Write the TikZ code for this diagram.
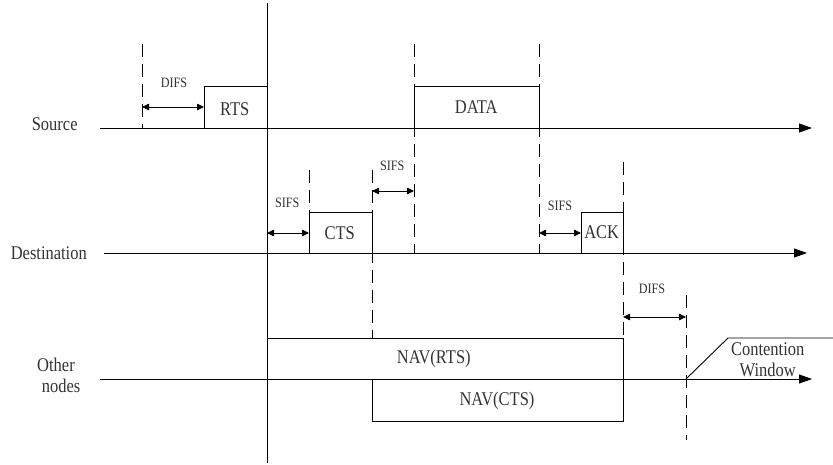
\documentclass[tikz,border=0pt]{standalone}
\usepackage{fontspec}
\setmainfont{Liberation Serif}
\newfontfamily\narrowserif[FakeStretch=0.85]{Liberation Serif}
\usetikzlibrary{arrows.meta}
\begin{document}
\begin{tikzpicture}[x=1pt,y=-1pt,line width=0.9pt,
  axis/.style={-{Triangle[length=13pt,width=9pt]}},
  dimarrow/.style={{Triangle[length=7pt,width=6.5pt]}-{Triangle[length=7pt,width=6.5pt]},line width=0.8pt},
  tickline/.style={dash pattern=on 13pt off 7pt},
  big/.style={font=\narrowserif\fontsize{19.4}{21.5}\selectfont,inner sep=0pt,anchor=base,text=black!80},
  small/.style={font=\narrowserif\fontsize{14.3}{16}\selectfont,inner sep=0pt,anchor=base,text=black!80},
  frame/.style={draw}]
\useasboundingbox (0,0) rectangle (833,465);

% time points
\coordinate (tS)   at (142,128);
\coordinate (tR)   at (204,128);
\coordinate (tE)   at (267,128);
\coordinate (tC)   at (309,253);
\coordinate (tCe)  at (372,253);
\coordinate (tD)   at (414,128);
\coordinate (tDe)  at (539,128);
\coordinate (tA)   at (581,253);
\coordinate (tAe)  at (623,253);
\coordinate (tW)   at (686,379);

% axes
\coordinate (srcA) at (100,128); \coordinate (srcB) at (812,128);
\coordinate (dstA) at (104,253); \coordinate (dstB) at (807,253);
\coordinate (othA) at (100,379); \coordinate (othB) at (812,379);
\draw[axis] (srcA) -- (srcB);
\draw[axis] (dstA) -- (dstB);
\draw[axis] (othA) -- (othB);

% row labels
\node[big] (lsrc) at (54.7,131) {Source};
\node[big] (ldst) at (48.8,260) {Destination};
\node[big] (loth1) at (56,371.7) {Other};
\node[big] (loth2) at (61,392.7) {nodes};

% solid time line
\coordinate (vtop) at (267,3); \coordinate (vbot) at (267,463);
\draw (vtop) -- (vbot);

% dashed ticks
\coordinate (d1a) at (142,44);  \draw[tickline] (d1a) -- (tS);
\coordinate (d2a) at (414,44);  \coordinate (d2b) at (414,253); \draw[tickline] (d2a) -- (d2b);
\coordinate (d3a) at (539,44);  \coordinate (d3b) at (539,253); \draw[tickline] (d3a) -- (d3b);
\coordinate (d4a) at (309,170); \coordinate (d4b) at (309,212); \draw[tickline] (d4a) -- (d4b);
\coordinate (d5a) at (372,170); \coordinate (d5b) at (372,338); \draw[tickline] (d5a) -- (d5b);
\coordinate (d6a) at (623,162); \coordinate (d6b) at (623,338); \draw[tickline] (d6a) -- (d6b);
\coordinate (d7a) at (686,295); \coordinate (d7b) at (686,440); \draw[tickline] (d7a) -- (d7b);

% frames
\draw[frame] (204,86) rectangle (267,128);
\draw[frame] (414,86) rectangle (539,128);
\draw[frame] (309,212) rectangle (372,253);
\draw[frame] (581,212) rectangle (623,253);
\draw[frame] (267,338) rectangle (623,379);
\draw[frame] (372,379) rectangle (623,421);

% frame labels
\node[big] (rts)  at (234.7,115.7) {RTS};
\node[big] (data) at (476.2,113.3) {DATA};
\node[big] (cts)  at (339.7,239.3) {CTS};
\node[big] (ack)  at (601.7,238.3) {ACK};
\node[big] (navr) at (433.8,363.3) {NAV(RTS)};
\node[big] (navc) at (497,405.5) {NAV(CTS)};

% interval arrows
\coordinate (i1a) at (142,107); \coordinate (i1b) at (204,107);
\draw[dimarrow] (i1a) -- (i1b);
\node[small] (difs1) at (174,87.3) {DIFS};
\coordinate (i2a) at (267,233); \coordinate (i2b) at (309,233);
\draw[dimarrow] (i2a) -- (i2b);
\node[small] (sifs1) at (287.2,207.3) {SIFS};
\coordinate (i3a) at (372,191); \coordinate (i3b) at (414,191);
\draw[dimarrow] (i3a) -- (i3b);
\node[small] (sifs2) at (392.2,171) {SIFS};
\coordinate (i4a) at (539,233); \coordinate (i4b) at (581,233);
\draw[dimarrow] (i4a) -- (i4b);
\node[small] (sifs3) at (560,211) {SIFS};
\coordinate (i5a) at (623,317); \coordinate (i5b) at (686,317);
\draw[dimarrow] (i5a) -- (i5b);
\node[small] (difs2) at (652,294) {DIFS};

% contention window
\coordinate (cw1) at (728,338); \coordinate (cw2) at (833,338);
\draw (tW) -- (cw1) -- (cw2);
\node[big] (cont) at (767.7,355) {Contention};
\node[big] (wind) at (767.7,376.7) {Window};
\end{tikzpicture}
\end{document}
